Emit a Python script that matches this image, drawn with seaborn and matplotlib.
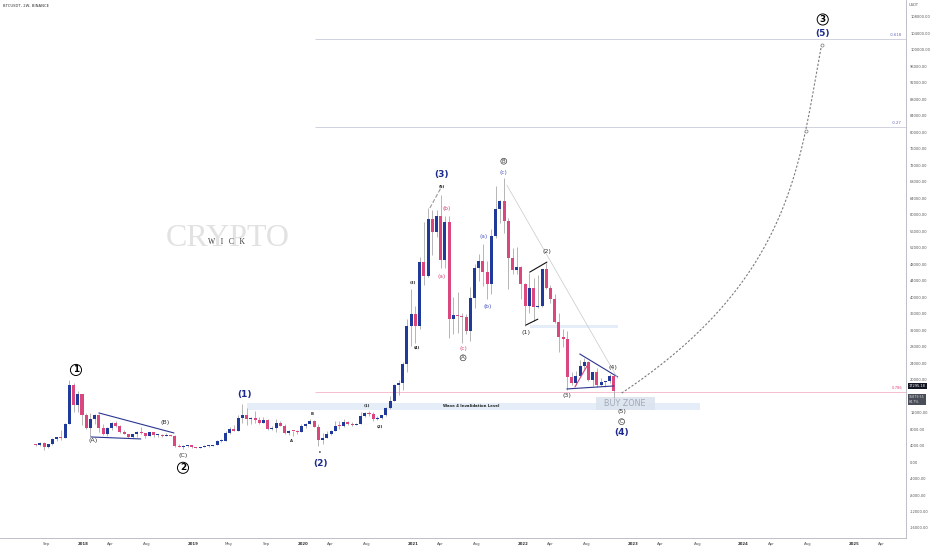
import numpy as np
import pandas as pd
import matplotlib
matplotlib.use("Agg")
import matplotlib.pyplot as plt
import matplotlib.dates as mdates
import matplotlib.transforms as mtrans
from matplotlib.patches import Rectangle
import seaborn as sns

# ---------------- data (2W candles, BTCUSDT) ----------------
first_bar = "2017-08-07"
opens = [4261, 4087, 4580, 3690, 4380, 5690, 6150, 5900, 9300, 18700, 13900,
         16400, 11500, 8200, 10400, 11500, 8200, 6900, 8300, 9400, 8700, 7350, 6800, 6150,
         6750, 7400, 7000, 6400, 7200, 6500, 6600, 6300, 6450, 6400, 3900, 3600, 3950,
         4050, 3550, 3450, 3630, 3800, 4000, 4100, 5150, 5200, 6950, 8050, 7650, 10700,
         11450, 10550, 10800, 10300, 9600, 10300, 8050, 8300, 9550, 8800, 7000, 7500, 7450,
         7350, 8700, 9350, 9900, 8550, 5350, 5900, 6900, 7550, 8750, 8700, 9650, 9300,
         9050, 9170, 11100, 11900, 11700, 10330, 10780, 11380, 13030, 14820, 18680, 19150, 23860,
         33000, 36000, 33100, 48600, 45150, 59000, 55800, 59800, 49000, 58200, 34700, 35800, 35500,
         35300, 31770, 39850, 47000, 48800, 46000, 43200, 54950, 61300, 63250, 58600, 49400, 46700,
         47300, 43100, 37900, 42200, 37700, 37800, 46800, 42150, 39450, 34050, 30300, 29900, 20550,
         19300, 20800, 23300, 24300, 20000, 21800, 18800, 19400, 19550, 20900]
highs = [4485, 4939, 4788, 4400, 5860, 6200, 7700, 9480, 19800, 19200, 17200,
         16500, 11900, 11800, 11700, 11700, 9200, 8400, 9750, 9990, 8900, 7800, 6900, 6850,
         7600, 8500, 7150, 7300, 7400, 6800, 6700, 7000, 6600, 6500, 4400, 4200, 4200,
         4100, 3650, 3750, 4200, 4060, 4140, 5470, 5650, 7500, 8400, 9100, 11300, 13970,
         13200, 11000, 12300, 10950, 10900, 10400, 8800, 10540, 9950, 9150, 7850, 7650, 7700,
         9200, 9600, 10500, 10300, 9200, 6950, 7450, 7750, 10050, 9950, 10430, 10000, 9800,
         9450, 12100, 12100, 12470, 12050, 11180, 11450, 13350, 15960, 18950, 19800, 24300, 34800,
         41950, 37850, 49700, 58350, 61700, 61200, 61200, 64850, 59600, 59600, 40000, 41300, 36100,
         35950, 42600, 48100, 50500, 52900, 48850, 56550, 67000, 63700, 69000, 59300, 51950, 52100,
         47550, 43500, 45850, 44750, 45400, 46950, 48200, 42980, 40800, 36150, 32200, 31700, 21850,
         22050, 24650, 25200, 24450, 21850, 22800, 20480, 19700, 21450, 21050]
lows = [3850, 3900, 2817, 3520, 4180, 5100, 5300, 5850, 9300, 12100, 12100,
        9000, 8100, 6000, 9300, 7300, 6500, 6400, 7900, 8400, 7100, 6700, 5800, 5800,
        6100, 6900, 5880, 6250, 6100, 6100, 6100, 6300, 6250, 3650, 3600, 3150, 3550,
        3450, 3400, 3380, 3600, 3700, 3900, 4100, 4950, 5150, 6800, 7450, 7550, 9600,
        9100, 9150, 9450, 9350, 9600, 7710, 7800, 7300, 8650, 6800, 6520, 6430, 6850,
        7350, 8250, 9150, 8400, 3800, 4450, 5850, 6450, 7550, 8100, 8600, 9100, 8850,
        9000, 9150, 10950, 11100, 9850, 10200, 10400, 11200, 12880, 14800, 16200, 17600, 21900,
        28100, 28850, 32300, 43000, 45000, 50300, 54600, 47000, 47050, 30000, 31100, 31300, 28800,
        31100, 29300, 37330, 43950, 42800, 39600, 40750, 54400, 58000, 55600, 42000, 45650, 45550,
        39650, 32900, 36250, 34300, 37450, 37550, 42100, 38550, 33700, 26700, 28000, 17600, 18800,
        18800, 20700, 22650, 19550, 18500, 18250, 18450, 18200, 19250, 15600]
closes = [4087, 4580, 3690, 4380, 5690, 6150, 5900, 9300, 18700, 13900, 16400,
          11500, 8200, 10400, 11500, 8200, 6900, 8300, 9400, 8700, 7350, 6800, 6150, 6750,
          7400, 7000, 6400, 7200, 6500, 6600, 6300, 6450, 6400, 3900, 3600, 3950, 4050,
          3550, 3450, 3630, 3800, 4000, 4100, 5150, 5200, 6950, 8050, 7650, 10700, 11450,
          10550, 10800, 10300, 9600, 10300, 8050, 8300, 9550, 8800, 7000, 7500, 7450, 7350,
          8700, 9350, 9900, 8550, 5350, 5900, 6900, 7550, 8750, 8700, 9650, 9300, 9050,
          9170, 11100, 11900, 11700, 10330, 10780, 11380, 13030, 14820, 18680, 19150, 23860, 33000,
          36000, 33100, 48600, 45150, 59000, 55800, 59800, 49000, 58200, 34700, 35800, 35500, 35300,
          31770, 39850, 47000, 48800, 46000, 43200, 54950, 61300, 63250, 58600, 49400, 46700, 47300,
          43100, 37900, 42200, 37700, 37800, 46800, 42150, 39450, 34050, 30300, 29900, 20550, 19300,
          20800, 23300, 24300, 20000, 21800, 18800, 19400, 19550, 20900, 17295.18]

y_ticks = list(range(-16000, 108001, 4000))
hidden_y_ticks = [16000]  # covered by the price boxes
x_tick_labels = ["Sep", "2018", "Apr", "Aug", "2019", "May", "Sep", "2020", "Apr", "Aug",
                 "2021", "Apr", "Aug", "2022", "Apr", "Aug", "2023", "Apr", "Aug",
                 "2024", "Apr", "Aug", "2025", "Apr"]
x_tick_months = ["2017-09", "2018-01", "2018-04", "2018-08", "2019-01", "2019-05", "2019-09",
                 "2020-01", "2020-04", "2020-08", "2021-01", "2021-04", "2021-08", "2022-01",
                 "2022-04", "2022-08", "2023-01", "2023-04", "2023-08", "2024-01", "2024-04",
                 "2024-08", "2025-01", "2025-04"]

fib_levels = [102670, 81320, 16990]
fib_names = ["-0.618", "-0.27", "0.786"]
fib_start = "2020-02-19"

proj_dates = ["2022-12-03", "2023-10-24", "2024-07-12", "2024-08-04", "2024-09-26"]
proj_prices = [16740, 36910, 73310, 80350, 101210]

wave_labels = [
    ("1", "2017-12-19", 22350, "circ"),
    ("(A)", "2018-02-13", 5120, "small"),
    ("(B)", "2018-10-10", 9490, "small"),
    ("(C)", "2018-12-09", 1480, "small"),
    ("2", "2018-12-09", -1400, "circ"),
    ("(1)", "2019-07-02", 16280, "navy"),
    ("A", "2019-12-05", 5120, "tiny"),
    ("B", "2020-02-09", 11670, "tiny"),
    ("c", "2020-03-07", 2450, "tiny"),
    ("(2)", "2020-03-10", -460, "navy"),
    ("(1)", "2020-08-10", 13610, "tiny"),
    ("(2)", "2020-09-22", 8520, "tiny"),
    ("(3)", "2021-01-10", 43460, "tiny"),
    ("(4)", "2021-01-23", 27690, "tiny"),
    ("(5)", "2021-04-16", 66760, "tiny"),
    ("(3)", "2021-04-16", 69900, "navy"),
    ("(b)", "2021-05-03", 61420, "pink"),
    ("(a)", "2021-04-16", 44920, "pink"),
    ("(c)", "2021-06-25", 27440, "pink"),
    ("A", "2021-06-25", 25300, "circs"),
    ("(a)", "2021-09-02", 54620, "blue"),
    ("(b)", "2021-09-15", 37640, "blue"),
    ("B", "2021-11-07", 73000, "circs"),
    ("(c)", "2021-11-07", 70180, "blue"),
    ("(1)", "2022-01-19", 31330, "small"),
    ("(2)", "2022-03-30", 50990, "small"),
    ("(3)", "2022-06-04", 16040, "small"),
    ("(4)", "2022-11-04", 22830, "small"),
    ("(5)", "2022-12-03", 12160, "small"),
    ("C", "2022-12-03", 9800, "circs"),
    ("(4)", "2022-12-03", 7100, "navy"),
    ("3", "2024-09-30", 107400, "circ"),
    ("(5)", "2024-09-30", 103900, "navy"),
]

wave_lines = [
    ("2018-03-05", 11920, "2018-11-09", 7060, "#2b3590", "-"),
    ("2018-02-07", 6090, "2018-07-22", 5610, "#2b3590", "-"),
    ("2022-02-01", 46090, "2022-03-30", 48520, "#111111", "-"),
    ("2022-01-19", 33230, "2022-02-28", 34680, "#111111", "-"),
    ("2022-07-17", 26230, "2022-11-20", 20650, "#2b3590", "-"),
    ("2022-06-04", 17740, "2022-11-07", 18470, "#2b3590", "-"),
    ("2022-07-01", 18220, "2022-08-16", 24050, "#d8437a", "-"),
    ("2021-11-17", 67240, "2022-11-20", 20300, "#c8c8c8", "-"),
    ("2021-03-07", 61660, "2021-04-16", 67000, "#9a9a9a", "--"),
]

# ---------------- style ----------------
sns.set_theme(style="white")
plt.rcParams["font.family"] = ["DejaVu Sans"]

W, H = 932, 550
fig = plt.figure(figsize=(W / 100, H / 100), dpi=100)
ax = fig.add_axes([0, 12 / H, 906 / W, 538 / H])
ax.set_facecolor("white")

DPP = 3.317  # days per pixel
x0 = mdates.date2num(pd.Timestamp("2018-01-08")) - 82 * DPP
ax.set_xlim(x0, x0 + 906 * DPP)
ax.set_ylim(-18427, 112125)

df = pd.DataFrame({"date": pd.date_range(first_bar, periods=len(closes), freq="14D"),
                   "open": opens, "high": highs, "low": lows, "close": closes})
df["x"] = mdates.date2num(df["date"])
up = df["close"] >= df["open"]
bull, bear = "#1f3a9b", "#d9477e"

ax.vlines(df["x"], df["low"], df["high"], color="#a9a9a9", lw=0.6, zorder=2)
bottoms = np.minimum(df["open"], df["close"])
heights = np.maximum((df["close"] - df["open"]).abs(), 260)
ax.bar(df["x"], heights, bottom=bottoms, width=10, color=np.where(up, bull, bear),
       linewidth=0, zorder=3)

def dn(s):
    return mdates.date2num(pd.Timestamp(s))

# bands
ax.add_patch(Rectangle((dn("2019-07-09"), 12650), dn("2023-08-19") - dn("2019-07-09"), 1690,
                       fc="#e5edf8", ec="none", zorder=1))
ax.add_patch(Rectangle((dn("2022-02-01"), 32500), dn("2022-11-20") - dn("2022-02-01"), 750,
                       fc="#e5edf8", ec="none", zorder=1))
ax.add_patch(Rectangle((dn("2022-09-08"), 12650), dn("2023-03-22") - dn("2022-09-08"), 3150,
                       fc="#dce4ef", ec="none", zorder=1, alpha=0.9))
ax.text(dn("2022-12-14"), 14200, "BUY ZONE", fontsize=5.8, color="#a1a9b9", ha="center",
        va="center", zorder=4)
ax.text(dn("2021-07-21"), 13500, "Wave 4 Invalidation Level", fontsize=2.8, fontweight="bold",
        color="#222222", ha="center", va="center", zorder=4)

# fib levels
fib_colors = ["#c9ccd8", "#c9ccd8", "#f5b3c6"]
fib_text_colors = ["#5b63b5", "#5b63b5", "#e0457b"]
blend = mtrans.blended_transform_factory(ax.transAxes, ax.transData)
for lev, name, lc, tc in zip(fib_levels, fib_names, fib_colors, fib_text_colors):
    ax.hlines(lev, dn(fib_start), ax.get_xlim()[1], color=lc, lw=0.6, zorder=1)
    ax.text(902 / 906, lev + 500, name, transform=blend, fontsize=2.7, color=tc,
            ha="right", va="bottom")

# wave lines
for d1, p1, d2, p2, c, ls in wave_lines:
    ax.plot([dn(d1), dn(d2)], [p1, p2], color=c, lw=0.8 if c != "#c8c8c8" else 0.5,
            ls=ls, zorder=4)

# projection path
px = np.array([dn(d) for d in proj_dates])
pp = np.array(proj_prices, dtype=float)
coef = np.polyfit(pp / 1e5, px - px[0], 4)
ys = np.linspace(pp[0], pp[-1], 200)
xs = np.polyval(coef, ys / 1e5) + px[0]
sns.lineplot(x=xs, y=ys, sort=False, estimator=None, ax=ax, color="#7a7a7a", lw=0.8,
             linestyle=(0, (2, 1.6)), zorder=4)
ax.plot([px[3], px[-1]], [pp[3], pp[-1]], ls="none", marker="o", ms=2.2, mfc="white",
        mec="#7a7a7a", mew=0.5, zorder=5)

# labels
styles = {
    "circ": dict(fontsize=6.3, fontweight="bold", color="black",
                 bbox=dict(boxstyle="circle,pad=0.12", fc="white", ec="black", lw=0.7)),
    "navy": dict(fontsize=6.5, fontweight="bold", color="#1b2a8c"),
    "small": dict(fontsize=4.6, color="#333333"),
    "tiny": dict(fontsize=2.8, fontweight="bold", color="#222222"),
    "pink": dict(fontsize=4.2, color="#d8437a"),
    "blue": dict(fontsize=4.2, color="#4b57c0"),
    "circs": dict(fontsize=4.0, color="#444444",
                  bbox=dict(boxstyle="circle,pad=0.08", fc="white", ec="#444444", lw=0.5)),
}
for txt, d, p, st in wave_labels:
    ax.text(dn(d), p, txt, ha="center", va="center", zorder=6, **styles[st])

# axes styling
ax.yaxis.tick_right()
ax.set_yticks(y_ticks)
ax.set_yticklabels(["" if v in hidden_y_ticks else f"{v:.2f}" for v in y_ticks])
ax.tick_params(axis="y", length=0, pad=3, labelsize=2.6, labelcolor="#555555")
tick_pos = [dn(m + "-11") for m in x_tick_months]
ax.set_xticks(tick_pos)
ax.set_xticklabels(x_tick_labels)
ax.tick_params(axis="x", length=0, pad=3, labelsize=2.8, labelcolor="#555555")
for t in ax.get_xticklabels():
    if t.get_text().isdigit():
        t.set_fontweight("bold")
        t.set_color("#333333")
ax.set_xlabel("")
ax.set_ylabel("")
ax.grid(False)
for s in ["top", "left"]:
    ax.spines[s].set_visible(False)
for s in ["right", "bottom"]:
    ax.spines[s].set_color("#b2b5be")
    ax.spines[s].set_linewidth(0.6)

# price boxes
ax.text(1 + 3 / 906, 18500, "17295.18", transform=blend, fontsize=2.5, color="white",
        ha="left", va="center", bbox=dict(boxstyle="square,pad=0.3", fc="#131722", ec="none"),
        clip_on=False, zorder=7)
ax.text(1 + 3 / 906, 15200, "16879.55\n84.7%", transform=blend, fontsize=2.3, color="#dddddd",
        ha="left", va="center", linespacing=1.1,
        bbox=dict(boxstyle="square,pad=0.3", fc="#4a4e59", ec="none"), clip_on=False, zorder=7)

# header texts
fig.text(3 / W, 1 - 6 / H, "BTCUSDT, 2W, BINANCE", fontsize=2.7, color="#333333",
         ha="left", va="center")
fig.text(909 / W, 1 - 5 / H, "USDT", fontsize=2.6, color="#555555", ha="left", va="center")

# watermark
fig.text(228 / W, 1 - 238 / H, "CRYPTO", fontsize=23, family="Liberation Serif",
         color="#e2e2e2", ha="center", va="center", zorder=0)
fig.text(226 / W, 1 - 242 / H, "W   I   C   K", fontsize=5.5, family="Liberation Serif",
         color="#3a3a3a", ha="center", va="center")

fig.savefig("out.png", dpi=100, facecolor="white")
